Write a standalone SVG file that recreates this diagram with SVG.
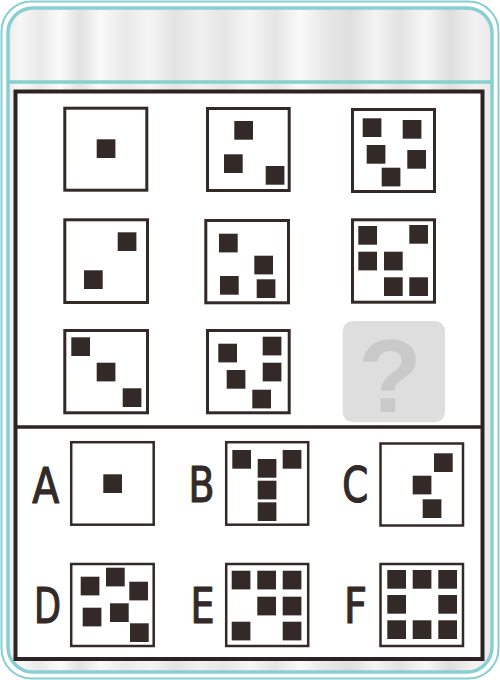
<svg xmlns="http://www.w3.org/2000/svg" xmlns:xlink="http://www.w3.org/1999/xlink" width="500" height="680" viewBox="0 0 500 680">
<defs>
<linearGradient id="silver" x1="0" y1="0" x2="500" y2="0" gradientUnits="userSpaceOnUse">
<stop offset="0" stop-color="#e6e6e6"/>
<stop offset="0.04" stop-color="#f7f7f7"/>
<stop offset="0.08" stop-color="#e9e9e9"/>
<stop offset="0.12" stop-color="#fbfbfb"/>
<stop offset="0.16" stop-color="#e1e1e1"/>
<stop offset="0.2" stop-color="#f9f9f9"/>
<stop offset="0.25" stop-color="#eaeaea"/>
<stop offset="0.3" stop-color="#f4f4f4"/>
<stop offset="0.35" stop-color="#e3e3e3"/>
<stop offset="0.4" stop-color="#f0f0f0"/>
<stop offset="0.45" stop-color="#e6e6e6"/>
<stop offset="0.5" stop-color="#f6f6f6"/>
<stop offset="0.55" stop-color="#e4e4e4"/>
<stop offset="0.6" stop-color="#fafafa"/>
<stop offset="0.65" stop-color="#e8e8e8"/>
<stop offset="0.7" stop-color="#dfdfdf"/>
<stop offset="0.75" stop-color="#f3f3f3"/>
<stop offset="0.8" stop-color="#e2e2e2"/>
<stop offset="0.85" stop-color="#f7f7f7"/>
<stop offset="0.9" stop-color="#dedede"/>
<stop offset="0.95" stop-color="#f2f2f2"/>
<stop offset="1" stop-color="#e5e5e5"/>
</linearGradient>
<rect id="s" width="18.7" height="18.7" fill="#332a28"/>
</defs>
<style>
.cell{fill:#fff;stroke:#332a28;stroke-width:3}
.opt{fill:#fff;stroke:#332a28;stroke-width:2.5}
.lbl{font-family:"DejaVu Sans",sans-serif;font-stretch:condensed;font-size:50px;fill:#332a28;stroke:#332a28;stroke-width:1.2;stroke-linejoin:round}
</style>
<g id="frame">
<rect x="1.5" y="1.5" width="497" height="677" rx="30" fill="#fff" stroke="#88cfd1" stroke-width="2"/>
<rect x="8" y="8" width="484" height="664" rx="25" fill="url(#silver)" stroke="#88cfd1" stroke-width="3.5"/>
<line x1="9" y1="82" x2="491" y2="82" stroke="#88cfd1" stroke-width="3.5"/>
<rect x="15.5" y="91.5" width="467" height="567.5" fill="#fff" stroke="#2b2423" stroke-width="4"/>
<line x1="15.5" y1="427" x2="482.5" y2="427" stroke="#2b2423" stroke-width="3.5"/>
</g>
<g id="r1c1"><rect class="cell" x="64.8" y="108.2" width="82" height="82"/><use xlink:href="#s" x="96.7" y="139.3"/></g>
<g id="r1c2"><rect class="cell" x="207.5" y="108.5" width="81.7" height="82"/><use xlink:href="#s" x="234.3" y="121"/><use xlink:href="#s" x="224" y="154.3"/><use xlink:href="#s" x="265.7" y="166"/></g>
<g id="r1c3"><rect class="cell" x="352.5" y="109.5" width="82" height="82"/><use xlink:href="#s" x="362.7" y="118.3"/><use xlink:href="#s" x="402.7" y="120"/><use xlink:href="#s" x="366.7" y="145"/><use xlink:href="#s" x="407.3" y="150"/><use xlink:href="#s" x="381.7" y="167.7"/></g>
<g id="r2c1"><rect class="cell" x="64.8" y="219.8" width="82.7" height="82.7"/><use xlink:href="#s" x="117.7" y="232.3"/><use xlink:href="#s" x="84" y="270.3"/></g>
<g id="r2c2"><rect class="cell" x="205.8" y="220.5" width="82.7" height="82.3"/><use xlink:href="#s" x="219" y="233.7"/><use xlink:href="#s" x="254.3" y="255.7"/><use xlink:href="#s" x="220" y="276"/><use xlink:href="#s" x="256.7" y="279.3"/></g>
<g id="r2c3"><rect class="cell" x="352.5" y="219.8" width="82" height="82.4"/><use xlink:href="#s" x="358.3" y="226"/><use xlink:href="#s" x="409.3" y="225"/><use xlink:href="#s" x="358.3" y="251.7"/><use xlink:href="#s" x="384" y="251.7"/><use xlink:href="#s" x="384" y="277.3"/><use xlink:href="#s" x="409.3" y="277.3"/></g>
<g id="r3c1"><rect class="cell" x="64.8" y="330.5" width="82.7" height="82.3"/><use xlink:href="#s" x="71.3" y="337.3"/><use xlink:href="#s" x="96.7" y="362.7"/><use xlink:href="#s" x="122.7" y="388.3"/></g>
<g id="r3c2"><rect class="cell" x="207.5" y="330.5" width="81.7" height="82.3"/><use xlink:href="#s" x="218.3" y="343.7"/><use xlink:href="#s" x="262.7" y="336.7"/><use xlink:href="#s" x="226.7" y="370"/><use xlink:href="#s" x="262.7" y="362.7"/><use xlink:href="#s" x="252.3" y="389.7"/></g>
<g id="r3c3"><rect x="342.7" y="321" width="102.3" height="101.3" rx="10" fill="#dedede"/><text x="390" y="411.7" text-anchor="middle" font-family="Liberation Sans,sans-serif" font-weight="bold" font-size="104" fill="#c9c9c9">?</text></g>
<g id="optA"><text class="lbl" x="32.3" y="502.7" textLength="27" lengthAdjust="spacingAndGlyphs">A</text><rect class="opt" x="71.2" y="442.2" width="82.5" height="82.5"/><use xlink:href="#s" x="103.3" y="474.3"/></g>
<g id="optB"><text class="lbl" x="188.5" y="502.3" textLength="26" lengthAdjust="spacingAndGlyphs">B</text><rect class="opt" x="226.2" y="442.2" width="82" height="82.5"/><use xlink:href="#s" x="232.3" y="450"/><use xlink:href="#s" x="257.7" y="459"/><use xlink:href="#s" x="282.7" y="450"/><use xlink:href="#s" x="257.7" y="480.7"/><use xlink:href="#s" x="257.7" y="502.3"/></g>
<g id="optC"><text class="lbl" x="342.3" y="502" textLength="26" lengthAdjust="spacingAndGlyphs">C</text><rect class="opt" x="380.5" y="443.5" width="82.5" height="82"/><use xlink:href="#s" x="434" y="453.3"/><use xlink:href="#s" x="412.7" y="475.7"/><use xlink:href="#s" x="422.7" y="499.3"/></g>
<g id="optD"><text class="lbl" x="34" y="623.3" textLength="27" lengthAdjust="spacingAndGlyphs">D</text><rect class="opt" x="71.2" y="564" width="82.5" height="82"/><use xlink:href="#s" x="80.7" y="576.7"/><use xlink:href="#s" x="106" y="567.7"/><use xlink:href="#s" x="129.3" y="581.7"/><use xlink:href="#s" x="82.7" y="607.7"/><use xlink:href="#s" x="110" y="603.3"/><use xlink:href="#s" x="130" y="623.3"/></g>
<g id="optE"><text class="lbl" x="190.5" y="623" textLength="24" lengthAdjust="spacingAndGlyphs">E</text><rect class="opt" x="226.2" y="564" width="82" height="82"/><use xlink:href="#s" x="231.7" y="570.7"/><use xlink:href="#s" x="257.3" y="570.7"/><use xlink:href="#s" x="282.7" y="570.7"/><use xlink:href="#s" x="257.3" y="596.7"/><use xlink:href="#s" x="282.7" y="596.7"/><use xlink:href="#s" x="231.7" y="621.7"/><use xlink:href="#s" x="282.7" y="621.7"/></g>
<g id="optF"><text class="lbl" x="344" y="623" textLength="23" lengthAdjust="spacingAndGlyphs">F</text><rect class="opt" x="380.5" y="564" width="82.5" height="82"/><use xlink:href="#s" x="387.3" y="570"/><use xlink:href="#s" x="412.7" y="570"/><use xlink:href="#s" x="438.3" y="570"/><use xlink:href="#s" x="387.3" y="595"/><use xlink:href="#s" x="438.3" y="595"/><use xlink:href="#s" x="387.3" y="620.3"/><use xlink:href="#s" x="412.7" y="620.3"/><use xlink:href="#s" x="438.3" y="620.3"/></g>
</svg>
